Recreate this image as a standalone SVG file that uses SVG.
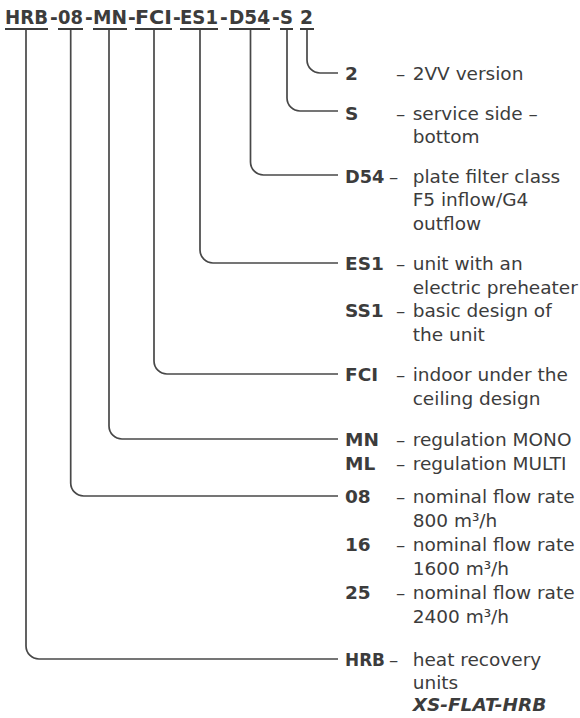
<svg xmlns="http://www.w3.org/2000/svg" width="580" height="718" viewBox="0 0 580 718">
<style>
text{font-family:"DejaVu Sans",Verdana,sans-serif;fill:#3c3c3c;font-size:18.5px}
.t{font-weight:bold;font-size:18.67px}
.c{font-weight:bold}
.bi{font-weight:bold;font-style:italic}
.ul{stroke:#3c3c3c;stroke-width:2;fill:none}
.cn{stroke:#484848;stroke-width:1.7;fill:none}
</style>
<g id="code">
<text class="t" y="24"><tspan x="5" textLength="43" lengthAdjust="spacingAndGlyphs">HRB</tspan><tspan x="50">-</tspan><tspan x="58" textLength="25" lengthAdjust="spacingAndGlyphs">08</tspan><tspan x="85">-</tspan><tspan x="93" textLength="34" lengthAdjust="spacingAndGlyphs">MN</tspan><tspan x="128">-</tspan><tspan x="135" textLength="37" lengthAdjust="spacingAndGlyphs">FCI</tspan><tspan x="173">-</tspan><tspan x="180" textLength="38" lengthAdjust="spacingAndGlyphs">ES1</tspan><tspan x="220">-</tspan><tspan x="229" textLength="41" lengthAdjust="spacingAndGlyphs">D54</tspan><tspan x="272">-</tspan><tspan x="280" textLength="13" lengthAdjust="spacingAndGlyphs">S</tspan><tspan x="300" textLength="13" lengthAdjust="spacingAndGlyphs">2</tspan></text>
<path class="ul" d="M5 29H48M58 29H83M93 29H127M135 29H172M180 29H218M229 29H270M280 29H293M300 29H314"/>
</g>
<g id="connectors">
<path class="cn" d="M26 30V646A13 13 0 0 0 39 659H338"/>
<path class="cn" d="M70.7 30V483A13 13 0 0 0 83.7 496H338"/>
<path class="cn" d="M109 30V426A13 13 0 0 0 122 439H338"/>
<path class="cn" d="M154 30V361A13 13 0 0 0 167 374H338"/>
<path class="cn" d="M200 30V250A13 13 0 0 0 213 263H338"/>
<path class="cn" d="M250.5 30V162A13 13 0 0 0 263.5 175H338"/>
<path class="cn" d="M287 30V98A13 13 0 0 0 300 111H338"/>
<path class="cn" d="M307 30V60A13 13 0 0 0 320 73H338"/>
</g>
<g id="n-2">
<text class="c" x="345" y="80">2</text>
<text x="396" y="80">– <tspan x="412.7">2VV version</tspan></text>
</g>
<g id="n-S">
<text class="c" x="345" y="119.5">S</text>
<text x="396" y="119.5">– <tspan x="412.7">service side –</tspan></text>
<text x="412.7" y="142.5">bottom</text>
</g>
<g id="n-D54">
<text class="c" x="345" y="182.5" textLength="39.5" lengthAdjust="spacingAndGlyphs">D54</text>
<text x="389" y="182.5">– <tspan x="412.7">plate filter class</tspan></text>
<text x="412.7" y="206">F5 inflow/G4</text>
<text x="412.7" y="229.5">outflow</text>
</g>
<g id="n-ES1">
<text class="c" x="345" y="270">ES1</text>
<text x="396" y="270">– <tspan x="412.7">unit with an</tspan></text>
<text x="412.7" y="293.5">electric preheater</text>
</g>
<g id="n-SS1">
<text class="c" x="345" y="317">SS1</text>
<text x="396" y="317">– <tspan x="412.7">basic design of</tspan></text>
<text x="412.7" y="340.5">the unit</text>
</g>
<g id="n-FCI">
<text class="c" x="345" y="381">FCI</text>
<text x="396" y="381">– <tspan x="412.7">indoor under the</tspan></text>
<text x="412.7" y="404.5">ceiling design</text>
</g>
<g id="n-MN">
<text class="c" x="345" y="445.5">MN</text>
<text x="396" y="445.5">– <tspan x="412.7">regulation MONO</tspan></text>
</g>
<g id="n-ML">
<text class="c" x="345" y="469.5">ML</text>
<text x="396" y="469.5">– <tspan x="412.7">regulation MULTI</tspan></text>
</g>
<g id="n-08">
<text class="c" x="345" y="503">08</text>
<text x="396" y="503">– <tspan x="412.7">nominal flow rate</tspan></text>
<text x="412.7" y="527">800 m³/h</text>
</g>
<g id="n-16">
<text class="c" x="345" y="551">16</text>
<text x="396" y="551">– <tspan x="412.7">nominal flow rate</tspan></text>
<text x="412.7" y="575">1600 m³/h</text>
</g>
<g id="n-25">
<text class="c" x="345" y="599">25</text>
<text x="396" y="599">– <tspan x="412.7">nominal flow rate</tspan></text>
<text x="412.7" y="623">2400 m³/h</text>
</g>
<g id="n-HRB">
<text class="c" x="345" y="665.5" textLength="40" lengthAdjust="spacingAndGlyphs">HRB</text>
<text x="389" y="665.5">– <tspan x="412.7">heat recovery</tspan></text>
<text x="412.7" y="688.5">units</text>
<text class="bi" x="412.7" y="711">XS-FLAT-HRB</text>
</g>
</svg>
